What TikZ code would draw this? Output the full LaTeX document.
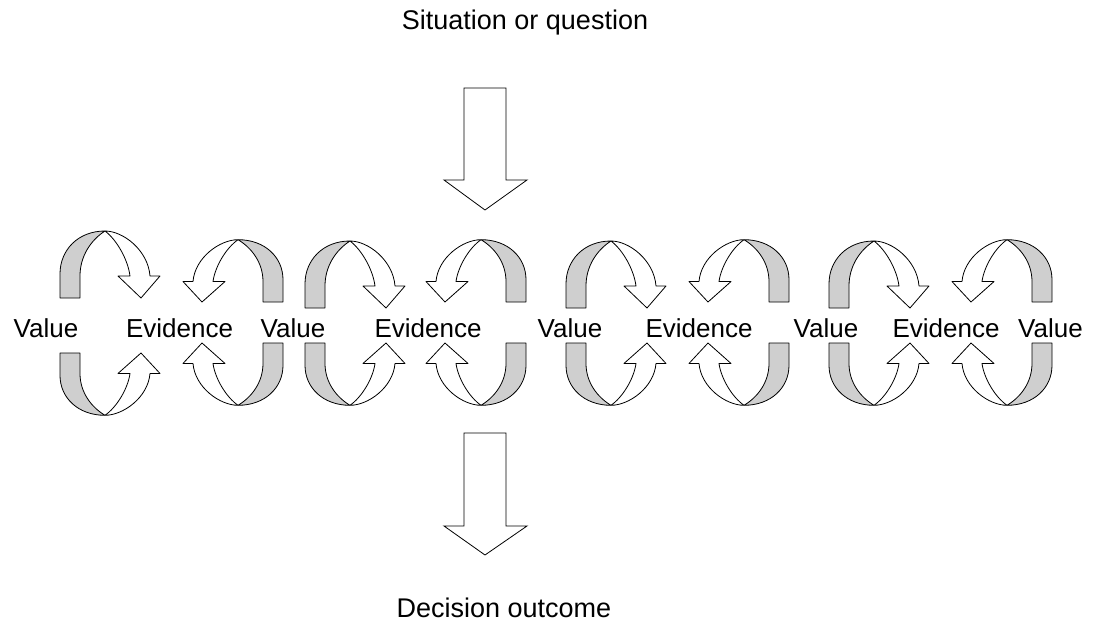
\documentclass[tikz,border=0pt]{standalone}
\usepackage{fontspec}
\setmainfont{Liberation Sans}
\tikzset{
  lbl/.style={font=\fontsize{26}{30}\selectfont, inner sep=0pt, anchor=base},
  biglbl/.style={font=\fontsize{27}{31}\selectfont, inner sep=0pt, anchor=base},
  ribgray/.style={draw=black, fill=black!19, line width=0.8pt, line join=round},
  ribwhite/.style={draw=black, fill=white, line width=0.8pt, line join=round},
  bigarrow/.style={draw=black, fill=white, line width=0.8pt, line join=miter}
}
\newcommand\ribbonarrow{%
  \filldraw[ribgray] (0,0) -- (0,-24) .. controls (0,-48) and (18,-67) .. (45,-67)
     .. controls (31,-58) and (20,-42) .. (20,-22) -- (20,0) -- cycle;
  \filldraw[ribwhite] (45,-67) .. controls (63,-67) and (88,-48) .. (90,-22)
     -- (100,-22) -- (81,0) -- (58,-22) -- (70,-22)
     .. controls (68,-38) and (57,-58) .. (45,-67) -- cycle;
}
\begin{document}
\begin{tikzpicture}[x=1pt,y=-1pt]
\path[use as bounding box, fill=white] (0,0) rectangle (1093,623);

% top-left type ribbons
\foreach \ox/\oy in {60/298, 305/308, 566/308, 829/308}{
  \begin{scope}[shift={(\ox,\oy)}] \ribbonarrow \end{scope}
}
% top-right type
\foreach \ox in {283, 526, 789, 1052}{
  \begin{scope}[shift={(\ox,302)}, xscale=-1, yscale=0.93] \ribbonarrow \end{scope}
}
% bottom-left type
\foreach \ox/\oy in {60/353, 305/343, 566/343, 829/343}{
  \begin{scope}[shift={(\ox,\oy)}, yscale=-0.93] \ribbonarrow \end{scope}
}
% bottom-right type
\foreach \ox in {283, 526, 789, 1052}{
  \begin{scope}[shift={(\ox,343)}, xscale=-1, yscale=-0.93] \ribbonarrow \end{scope}
}

% big arrows
\draw[bigarrow] (464,88) -- (506,88) -- (506,180) -- (527,180) -- (485,210)
  -- (444,180) -- (464,180) -- cycle;
\draw[bigarrow] (464,433) -- (506,433) -- (506,526) -- (527,526) -- (485,555)
  -- (444,526) -- (464,526) -- cycle;

% labels
\node[biglbl] (sit) at (525,30) {Situation or question};
\node[biglbl] (dec) at (504,617) {Decision outcome};
\node[lbl] (v1) at (46,337) {Value};
\node[lbl] (e1) at (179.5,337) {Evidence};
\node[lbl] (v2) at (293,337) {Value};
\node[lbl] (e2) at (428,337) {Evidence};
\node[lbl] (v3) at (570,337) {Value};
\node[lbl] (e3) at (699,337) {Evidence};
\node[lbl] (v4) at (826,337) {Value};
\node[lbl] (e4) at (946,337) {Evidence};
\node[lbl] (v5) at (1050.5,337) {Value};
\end{tikzpicture}
\end{document}
